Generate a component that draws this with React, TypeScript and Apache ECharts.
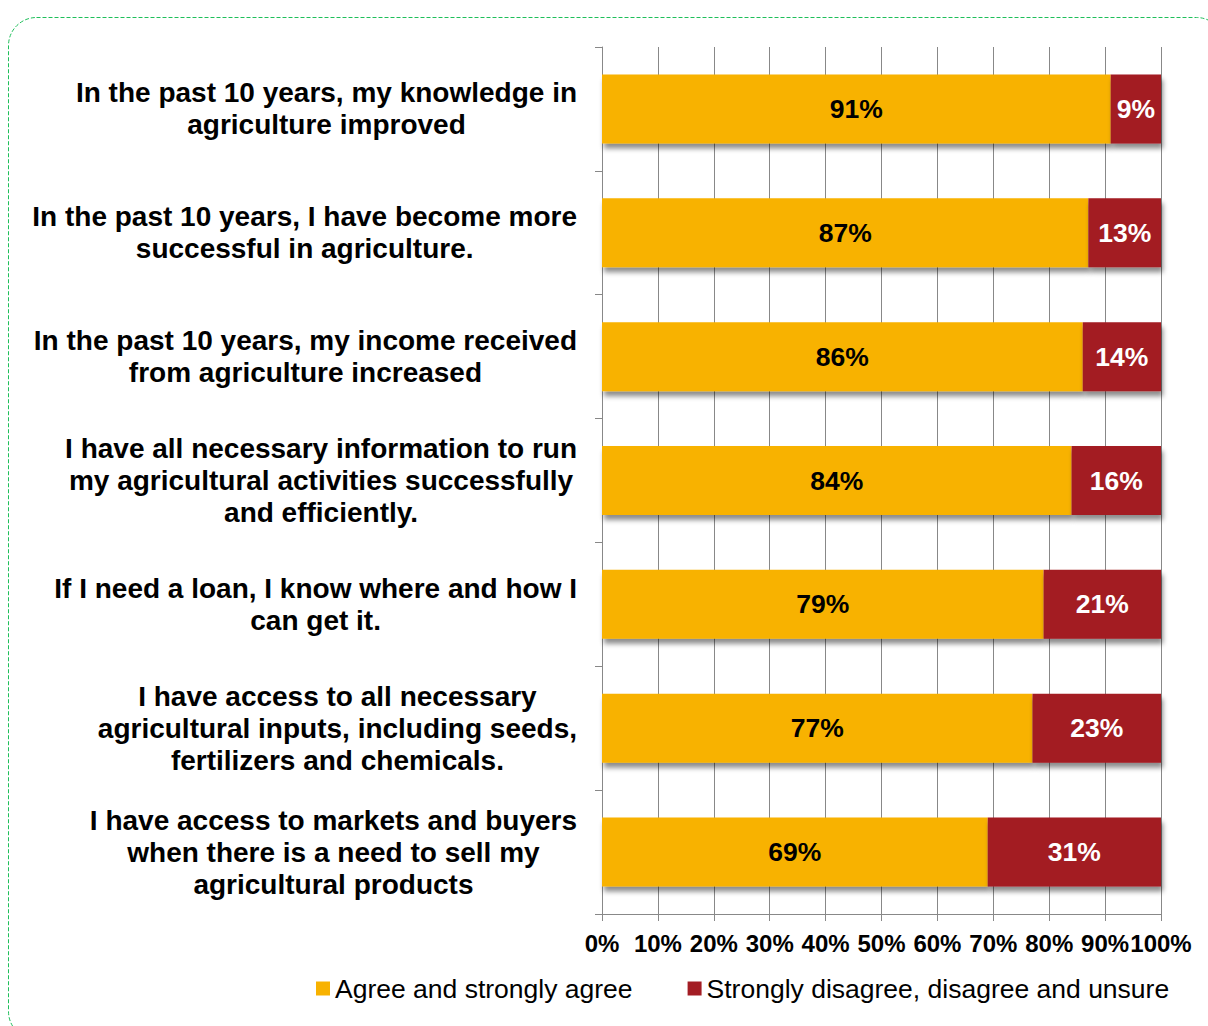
import React, { useEffect, useRef } from "react";
import * as echarts from "echarts";

const categories = [
  "In the past 10 years, my knowledge in\nagriculture improved",
  "In the past 10 years, I have become more\nsuccessful in agriculture.",
  "In the past 10 years, my income received\nfrom agriculture increased",
  "I have all necessary information to run\nmy agricultural activities successfully\nand efficiently.",
  "If I need a loan, I know where and how I\ncan get it.",
  "I have access to all necessary\nagricultural inputs, including seeds,\nfertilizers and chemicals.",
  "I have access to markets and buyers\nwhen there is a need to sell my\nagricultural products",
];
const agreeValues = [91, 87, 86, 84, 79, 77, 69];
const disagreeValues = [9, 13, 14, 16, 21, 23, 31];
const seriesNames = ["Agree and strongly agree", "Strongly disagree, disagree and unsure"];

const FONT = "'Liberation Sans', Arial, sans-serif";

export default function App() {
  const ref = useRef<HTMLDivElement>(null);
  useEffect(() => {
    if (!ref.current) return;
    const chart = echarts.init(ref.current, null, { renderer: "svg" });
    const shadow = {
      shadowColor: "rgba(0,0,0,0.45)",
      shadowBlur: 5,
      shadowOffsetX: 2,
      shadowOffsetY: 5,
    };
    chart.setOption({
      animation: false,
      backgroundColor: "#ffffff",
      textStyle: { fontFamily: FONT },
      graphic: [
        {
          type: "rect",
          shape: { x: 8.5, y: 17.5, width: 1216, height: 1022, r: 28 },
          style: { fill: "none", stroke: "#1fbf5a", lineWidth: 1, lineDash: [4, 2] },
          silent: true,
        },
      ],
      grid: { left: 602, right: 47, top: 47, bottom: 112, containLabel: false },
      legend: {
        left: 311,
        top: 970,
        icon: "rect",
        itemWidth: 14,
        itemHeight: 14,
        itemGap: 55,
        textStyle: { fontSize: 26.5, color: "#000", fontFamily: FONT },
        data: seriesNames,
      },
      xAxis: {
        type: "value",
        min: 0,
        max: 100,
        interval: 10,
        axisLine: { show: true, lineStyle: { color: "#888", width: 1 } },
        axisTick: { show: true, length: 7, lineStyle: { color: "#888" } },
        splitLine: { show: true, lineStyle: { color: "#888", width: 1 } },
        axisLabel: {
          formatter: "{value}%",
          fontSize: 24,
          fontWeight: "bold",
          color: "#000",
          margin: 17,
          fontFamily: FONT,
        },
      },
      yAxis: {
        type: "category",
        inverse: true,
        data: categories,
        axisLine: { show: true, lineStyle: { color: "#888", width: 1 } },
        axisTick: { show: true, length: 7, alignWithLabel: false, lineStyle: { color: "#888" } },
        splitLine: { show: false },
        axisLabel: {
          margin: 25,
          align: "right",
          formatter: (v: string) =>
            v
              .split("\n")
              .map((l) => `{c|${l}}`)
              .join("\n"),
          rich: {
            c: {
              align: "center",
              fontSize: 28,
              fontWeight: "bold",
              color: "#000",
              lineHeight: 32,
              fontFamily: FONT,
            },
          },
        },
      },
      series: [
        {
          name: seriesNames[0],
          type: "bar",
          stack: "total",
          barWidth: 69,
          data: agreeValues,
          itemStyle: { color: "#F8B200", ...shadow },
          label: {
            show: true,
            position: "inside",
            formatter: "{c}%",
            fontSize: 26.5,
            fontWeight: "bold",
            color: "#000",
            fontFamily: FONT,
          },
        },
        {
          name: seriesNames[1],
          type: "bar",
          stack: "total",
          barWidth: 69,
          data: disagreeValues,
          itemStyle: { color: "#A31D24", ...shadow },
          label: {
            show: true,
            position: "inside",
            formatter: "{c}%",
            fontSize: 26.5,
            fontWeight: "bold",
            color: "#fff",
            fontFamily: FONT,
          },
        },
      ],
    });
    return () => chart.dispose();
  }, []);
  return (
    <div
      ref={ref}
      style={{ position: "absolute", left: 0, top: 0, width: 1208, height: 1026 }}
    />
  );
}
